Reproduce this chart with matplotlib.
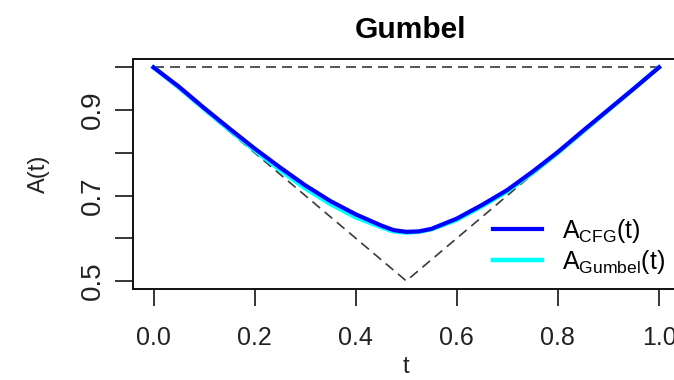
import numpy as np
import matplotlib
matplotlib.use("Agg")
import matplotlib.pyplot as plt

plt.rcParams['font.family'] = ['Liberation Sans', 'DejaVu Sans']
plt.rcParams['mathtext.default'] = 'regular'

# valeurs
t = [0.0, 0.05, 0.1, 0.15, 0.2, 0.25, 0.3, 0.35, 0.4, 0.45, 0.475, 0.5,
     0.525, 0.55, 0.6, 0.65, 0.7, 0.75, 0.8, 0.85, 0.9, 0.95, 1.0]
a_cfg = [1.0, 0.955, 0.905, 0.857, 0.810, 0.766, 0.724, 0.687, 0.656, 0.630, 0.619, 0.615,
         0.616, 0.622, 0.646, 0.678, 0.713, 0.756, 0.802, 0.852, 0.901, 0.950, 1.0]
a_gumbel = [1.0, 0.953, 0.903, 0.854, 0.806, 0.760, 0.717, 0.680, 0.649, 0.626, 0.616, 0.613,
            0.615, 0.621, 0.643, 0.675, 0.710, 0.753, 0.800, 0.850, 0.900, 0.950, 1.0]

# bornes (indépendance et comonotonie)
borne_t = [0.0, 0.5, 1.0]
borne_a = [1.0, 0.5, 1.0]
indep_t = [0.0, 1.0]
indep_a = [1.0, 1.0]

xticks = [0.0, 0.2, 0.4, 0.6, 0.8, 1.0]
yticks = [0.5, 0.6, 0.7, 0.8, 0.9, 1.0]
ylabels = ['0.5', '', '0.7', '', '0.9', '']

fig = plt.figure(figsize=(6.74, 3.8), dpi=100)
ax = fig.add_axes([0.1978, 0.2382, 0.810, 0.607])

dash_col = '#3a3a3a'
ax.plot(indep_t, indep_a, color=dash_col, lw=1.2, dashes=(6.0, 3.6))
ax.plot(borne_t, borne_a, color=dash_col, lw=1.2, dashes=(6.0, 3.6))
ax.plot(t, a_gumbel, color='#00ffff', lw=3.2, label='A$_{Gumbel}$(t)', zorder=3)
ax.plot(t, a_cfg, color='#0000ff', lw=3.0, label='A$_{CFG}$(t)', zorder=4)

ax.set_xlim(-0.04, 1.04)
ax.set_ylim(0.48, 1.02)

ax.set_xticks(xticks)
ax.set_xticklabels(['%.1f' % v for v in xticks])
ax.set_yticks(yticks)
ax.set_yticklabels(ylabels)
ax.tick_params(axis='x', direction='out', length=12, width=1.1, pad=14,
               labelsize=18, labelcolor='#222222')
ax.tick_params(axis='y', direction='out', length=13, width=1.1, pad=7,
               labelsize=20, labelcolor='#222222', labelrotation=90)
for lab in ax.get_yticklabels():
    lab.set_va('center')

for sp in ax.spines.values():
    sp.set_linewidth(1.4)
    sp.set_color('#111111')

ax.set_title('Gumbel', fontsize=21.5, fontweight='bold', pad=14.8, x=0.508)
ax.set_ylabel('A(t)', fontsize=17, color='#222222')
ax.yaxis.set_label_coords(-0.153, 0.5)
ax.set_xlabel('t', fontsize=17, color='#222222', va='top')
ax.xaxis.set_label_coords(0.5, -0.29)

handles, labels = ax.get_legend_handles_labels()
ax.legend(handles[::-1], labels[::-1], loc='center left', frameon=False,
          bbox_to_anchor=(493 / 674, 1 - 246.2 / 380), bbox_transform=fig.transFigure,
          borderpad=0, borderaxespad=0, fontsize=18, handlelength=1.95,
          handletextpad=0.8, labelspacing=0.12)

fig.savefig('out.png', dpi=100)
